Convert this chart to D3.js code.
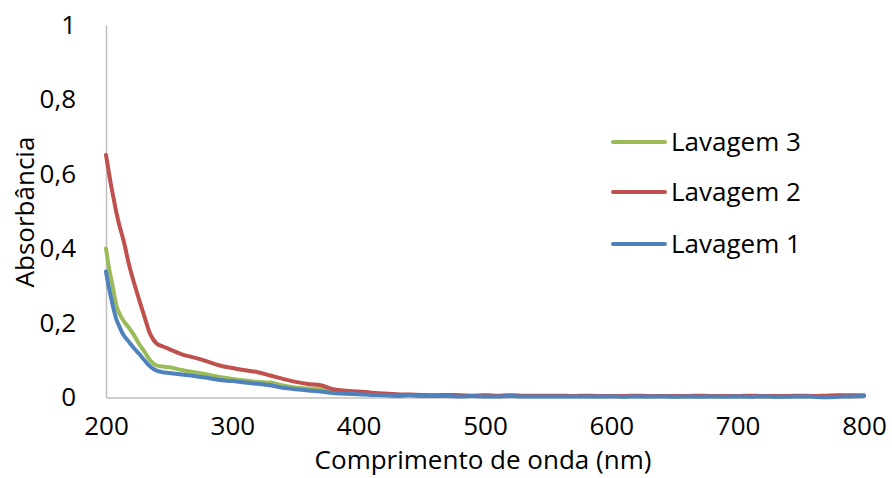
<!DOCTYPE html>
<html>
<head>
<meta charset="utf-8">
<script src="https://cdn.jsdelivr.net/npm/d3@7"></script>
<style>
  body { margin: 0; background: #fff; }
  svg { display: block; font-family: "Open Sans", sans-serif; }
</style>
</head>
<body>
<svg id="chart" width="892" height="478"></svg>
<script>
// Wavelength (nm)
const wavelengths = [200,202,204,206,208,210,214,218,222,226,230,235,240,245,250,260,270,280,290,300,
  310,320,330,340,350,360,370,380,390,400,410,420,430,440,450,460,470,480,490,500,
  510,520,530,540,550,560,570,580,590,600,610,620,630,640,650,660,670,680,690,700,
  710,720,730,740,750,760,770,780,790,800];

const lavagem3 = [0.400,0.355,0.320,0.285,0.250,0.230,0.205,0.188,0.168,0.145,0.125,0.100,0.086,0.083,0.081,0.074,0.068,0.062,0.055,0.050,
  0.046,0.042,0.040,0.032,0.027,0.024,0.022,0.014,0.012,0.011,0.009,0.008,0.007,0.007,0.006,0.006,0.005,0.005,0.005,0.005,
  0.004,0.005,0.004,0.004,0.004,0.004,0.004,0.004,0.003,0.004,0.003,0.004,0.003,0.004,0.003,0.003,0.004,0.003,0.004,0.003,
  0.004,0.003,0.003,0.004,0.003,0.004,0.003,0.005,0.004,0.005];

const lavagem2 = [0.651,0.610,0.570,0.535,0.500,0.470,0.420,0.360,0.310,0.265,0.222,0.170,0.145,0.137,0.130,0.116,0.107,0.097,0.086,0.079,
  0.073,0.068,0.059,0.050,0.042,0.036,0.033,0.022,0.018,0.016,0.013,0.011,0.009,0.008,0.007,0.006,0.007,0.006,0.005,0.006,
  0.005,0.006,0.005,0.005,0.005,0.005,0.004,0.005,0.004,0.004,0.004,0.005,0.004,0.004,0.004,0.004,0.005,0.004,0.004,0.004,
  0.005,0.004,0.004,0.004,0.005,0.004,0.005,0.006,0.006,0.006];

const lavagem1 = [0.338,0.300,0.268,0.238,0.212,0.195,0.167,0.150,0.133,0.118,0.102,0.083,0.072,0.068,0.066,0.062,0.058,0.053,0.047,0.044,
  0.040,0.037,0.033,0.026,0.022,0.019,0.016,0.012,0.010,0.009,0.007,0.006,0.004,0.006,0.004,0.004,0.004,0.003,0.004,0.003,
  0.003,0.004,0.003,0.003,0.003,0.003,0.003,0.003,0.003,0.003,0.002,0.003,0.003,0.003,0.002,0.003,0.002,0.003,0.002,0.003,
  0.002,0.003,0.002,0.002,0.003,0.002,0.001,0.002,0.003,0.004];

const xTicks = [200,300,400,500,600,700,800];
const yTicks = [0,0.2,0.4,0.6,0.8,1];
const yTickLabels = ["0","0,2","0,4","0,6","0,8","1"];

const seriesNames = ["Lavagem 3","Lavagem 2","Lavagem 1"];
const seriesData = [lavagem3, lavagem2, lavagem1];
const seriesColors = ["#9BBB59","#C0504D","#4F81BD"];

const svg = d3.select("#chart");
const margin = {top: 25, right: 28, bottom: 80.5, left: 106};
const W = 892, H = 478;

const x = d3.scaleLinear().domain([200,800]).range([margin.left, W - margin.right]);
const y = d3.scaleLinear().domain([0,1]).range([H - margin.bottom, margin.top]);

// Axes
const xAxis = d3.axisBottom(x).tickValues(xTicks).tickSize(0).tickPadding(19).tickFormat(d3.format("d"));
const gx = svg.append("g").attr("transform", `translate(0,${y(0)})`).call(xAxis);
gx.select(".domain").attr("stroke", "#BFBFBF").attr("stroke-width", 1.5);
gx.selectAll("text").attr("font-size", 26).attr("fill", "#000").attr("font-family", "'Open Sans', sans-serif");

const yAxis = d3.axisLeft(y).tickValues(yTicks).tickSize(0).tickPadding(30).tickFormat((d,i) => yTickLabels[i]);
const gy = svg.append("g").attr("transform", `translate(${x(200)},0)`).call(yAxis);
gy.select(".domain").attr("stroke", "#BFBFBF").attr("stroke-width", 1.5);
gy.selectAll("text").attr("font-size", 26).attr("fill", "#000").attr("font-family", "'Open Sans', sans-serif");

// Lines
const line = d3.line().x((d,i) => x(wavelengths[i])).y(d => y(d)).curve(d3.curveMonotoneX);
seriesData.forEach((s, k) => {
  svg.append("path").datum(s)
    .attr("d", line)
    .attr("fill", "none")
    .attr("stroke", seriesColors[k])
    .attr("stroke-width", 4)
    .attr("stroke-linejoin", "round")
    .attr("stroke-linecap", "round");
});

// Axis titles
svg.append("text")
  .attr("x", 483).attr("y", 469)
  .attr("text-anchor", "middle")
  .attr("font-size", 26)
  .text("Comprimento de onda (nm)");

svg.append("text")
  .attr("transform", "translate(34,212) rotate(-90)")
  .attr("text-anchor", "middle")
  .attr("font-size", 26)
  .text("Absorbância");

// Legend
const legY = [142, 192, 244];
seriesNames.forEach((n, k) => {
  svg.append("line")
    .attr("x1", 613).attr("x2", 665)
    .attr("y1", legY[k]).attr("y2", legY[k])
    .attr("stroke", seriesColors[k]).attr("stroke-width", 4)
    .attr("stroke-linecap", "round");
  svg.append("text")
    .attr("x", 671).attr("y", legY[k])
    .attr("dy", "0.36em")
    .attr("font-size", 26)
    .text(n);
});
</script>
</body>
</html>
